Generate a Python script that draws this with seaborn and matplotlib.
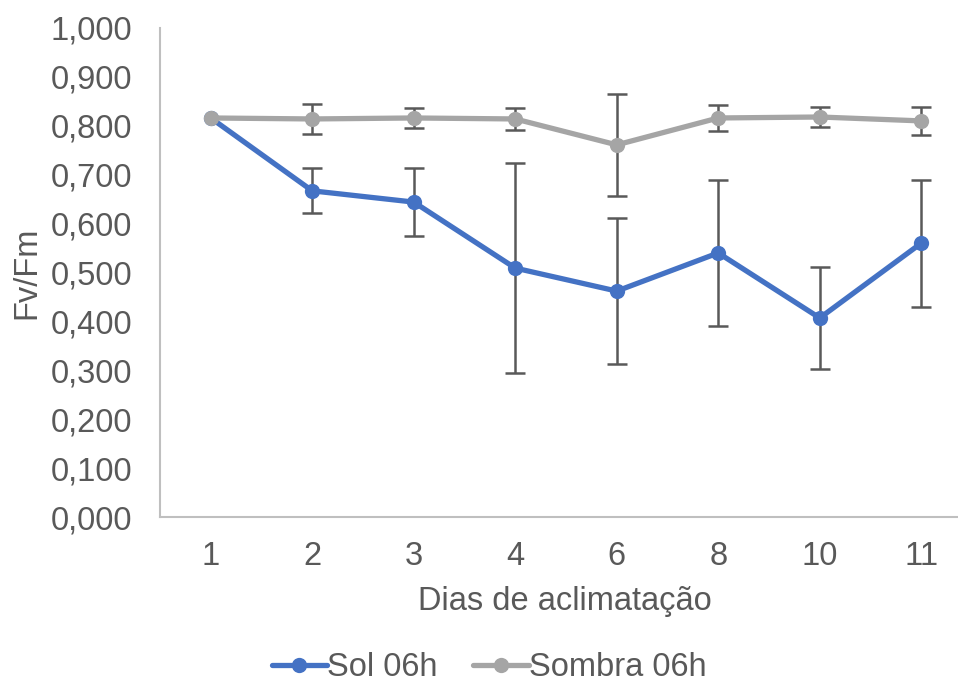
import matplotlib
matplotlib.use("Agg")
import matplotlib.pyplot as plt
import seaborn as sns
import pandas as pd
import numpy as np
from matplotlib.lines import Line2D

dias = ["1", "2", "3", "4", "6", "8", "10", "11"]
sol = [0.816, 0.667, 0.644, 0.509, 0.462, 0.540, 0.407, 0.560]
sol_err = [0.0, 0.046, 0.069, 0.214, 0.150, 0.149, 0.104, 0.130]
sombra = [0.816, 0.814, 0.816, 0.814, 0.761, 0.816, 0.818, 0.810]
sombra_err = [0.0, 0.030, 0.020, 0.022, 0.104, 0.027, 0.021, 0.028]
series_names = ["Sol 06h", "Sombra 06h"]
colors = ["#4472C4", "#A5A5A5"]
yticks = [0.0, 0.1, 0.2, 0.3, 0.4, 0.5, 0.6, 0.7, 0.8, 0.9, 1.0]

sns.set_style("white")
plt.rcParams["font.family"] = ["Liberation Sans", "DejaVu Sans"]
txt = "#595959"
fs = 23.5

pos = np.arange(len(dias))
df = pd.DataFrame({
    "pos": np.concatenate([pos, pos]),
    "val": sol + sombra,
    "err": sol_err + sombra_err,
    "serie": [series_names[0]] * len(dias) + [series_names[1]] * len(dias),
})

fig = plt.figure(figsize=(9.58, 6.88), dpi=100)
axw = (972 - 160) / 958
ax = fig.add_axes([160 / 958, 1 - 517 / 688, axw, 489 / 688])

for name in series_names:
    d = df[(df.serie == name) & (df.err > 0)]
    ax.errorbar(d.pos, d.val, yerr=d.err, fmt="none", ecolor="#595959",
                elinewidth=1.8, capsize=7, capthick=1.8, zorder=1)

sns.lineplot(data=df, x="pos", y="val", hue="serie", palette=colors,
             marker="o", markersize=11, markeredgewidth=0, linewidth=3.8,
             ax=ax, legend=False, zorder=3)

ax.set_xlim(-0.5, len(dias) - 0.5)
ax.set_ylim(0, 1.0)
ax.set_xticks(pos)
ax.set_xticklabels(dias)
ax.set_yticks(yticks)
ax.set_yticklabels([f"{v:.3f}".replace(".", ",") for v in yticks])
ax.tick_params(axis="both", length=0, labelsize=fs, colors=txt)
ax.tick_params(axis="x", pad=17)
ax.tick_params(axis="y", pad=20)
for s in ["top", "right"]:
    ax.spines[s].set_visible(False)
for s in ["left", "bottom"]:
    ax.spines[s].set_color("#BFBFBF")
    ax.spines[s].set_linewidth(1.5)
ax.set_xlabel("Dias de aclimatação", fontsize=fs, color=txt)
ax.xaxis.set_label_coords((565 - 160) / (972 - 160), -(586 - 517) / 489)
ax.set_ylabel("Fv/Fm", fontsize=fs, color=txt)
ax.yaxis.set_label_coords(-(160 - 42) / (972 - 160), 0.5)

handles = [Line2D([], [], color=c, marker="o", markersize=11, markeredgewidth=0,
                  linewidth=3.8) for c in colors]
leg = fig.legend(handles, series_names, loc="center", bbox_to_anchor=(489 / 958, 1 - 668 / 688),
                 ncol=2, frameon=False, fontsize=fs, handlelength=1.7,
                 handletextpad=0.0, columnspacing=1.1)
for t in leg.get_texts():
    t.set_color(txt)

fig.savefig("out.png", dpi=100)
